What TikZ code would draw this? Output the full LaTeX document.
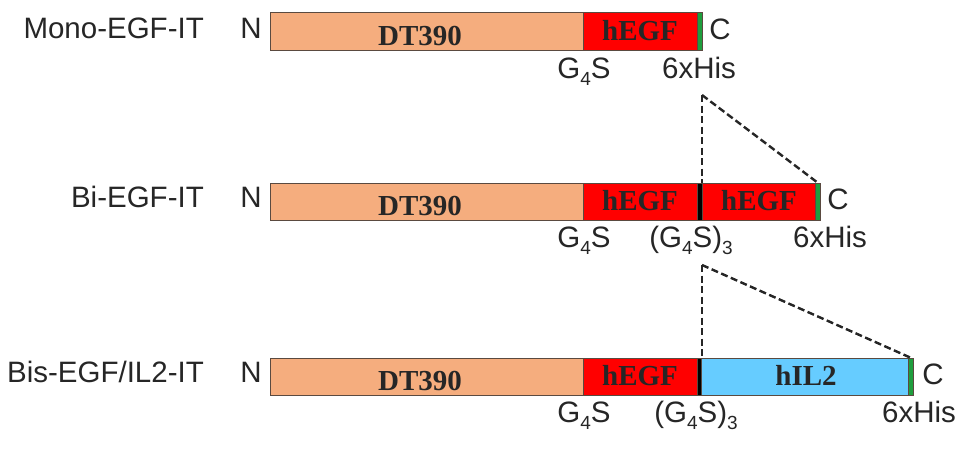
\documentclass[tikz,border=0pt]{standalone}
\usepackage{fontspec}
\setmainfont{Liberation Sans}
\newfontfamily\barfont{Liberation Serif}
\definecolor{peach}{HTML}{F5AD7E}
\definecolor{segred}{HTML}{FF0000}
\definecolor{segblue}{HTML}{66CCFF}
\definecolor{seggreen}{HTML}{1E9E3E}
\definecolor{rim}{HTML}{5A4A40}
\newcommand\mysub[1]{\raisebox{-7pt}{\fontsize{19}{19}\selectfont #1}}
\begin{document}
\begin{tikzpicture}[x=1pt,y=-1pt,
  seg/.style={draw=rim, line width=0.8pt, minimum height=37.5pt, inner sep=0pt, anchor=west},
  bartext/.style={font=\barfont\bfseries\fontsize{29}{29}\selectfont, text=black!85, inner sep=0pt, anchor=base},
  lab/.style={font=\fontsize{29.5}{31}\selectfont, text=black!85, inner sep=0pt, anchor=base},
  namelab/.style={lab, anchor=base east},
  dashln/.style={dash pattern=on 7pt off 3.5pt, line width=2.4pt, black!85}
]
\useasboundingbox (0,0) rectangle (969,450);

% Row 1
\node[seg, fill=peach, minimum width=313pt] (d1) at (270,31.5) {};
\node[seg, fill=segred, minimum width=114pt] (e1) at (583,31.5) {};
\node[seg, fill=seggreen, minimum width=5pt] (h1) at (697,31.5) {};
\node[bartext] (d1t) at (420,45) {DT390};
\node[bartext] (e1t) at (640,40) {hEGF};
\node[namelab] (n1) at (204,38) {Mono-EGF-IT};
\node[lab] (N1) at (251,38) {N};
\node[lab] (C1) at (720,39) {C};
\node[lab] (g1) at (584,78) {G\mysub{4}S};
\node[lab] (s1) at (699,78) {6xHis};

% Row 2
\node[seg, fill=peach, minimum width=313pt] (d2) at (270,202) {};
\node[seg, fill=segred, minimum width=114pt] (e2) at (583,202) {};
\node[seg, fill=black, minimum width=5pt] (k2) at (697,202) {};
\node[seg, fill=segred, minimum width=113pt] (f2) at (702,202) {};
\node[seg, fill=seggreen, minimum width=5pt] (h2) at (815,202) {};
\node[bartext] (d2t) at (420,215.5) {DT390};
\node[bartext] (e2t) at (640,210.5) {hEGF};
\node[bartext] (f2t) at (759,210.5) {hEGF};
\node[namelab] (n2) at (204,207.5) {Bi-EGF-IT};
\node[lab] (N2) at (251,207.5) {N};
\node[lab] (C2) at (838,209) {C};
\node[lab] (g2) at (584,247) {G\mysub{4}S};
\node[lab] (l2) at (691,247) {(G\mysub{4}S)\mysub{3}};
\node[lab] (s2) at (830,247) {6xHis};

% Row 3
\node[seg, fill=peach, minimum width=313pt] (d3) at (270,377) {};
\node[seg, fill=segred, minimum width=114pt] (e3) at (583,377) {};
\node[seg, fill=black, minimum width=4pt] (k3) at (697,377) {};
\node[seg, fill=segblue, minimum width=207pt] (i3) at (701,377) {};
\node[seg, fill=seggreen, minimum width=5pt] (h3) at (908,377) {};
\node[bartext] (d3t) at (420,390.5) {DT390};
\node[bartext] (e3t) at (640,385.5) {hEGF};
\node[bartext] (i3t) at (806,385.5) {hIL2};
\node[namelab] (n3) at (204,382.5) {Bis-EGF/IL2-IT};
\node[lab] (N3) at (251,382.5) {N};
\node[lab] (C3) at (933,384) {C};
\node[lab] (g3) at (584,422) {G\mysub{4}S};
\node[lab] (l3) at (696,422) {(G\mysub{4}S)\mysub{3}};
\node[lab] (s3) at (919,422) {6xHis};

% Dashed connectors
\coordinate (a1) at (702,95);
\coordinate (a2) at (702,265);
\draw[dashln] (a1) -- (k2.north -| a1);
\draw[dashln] (a1) -- (h2.north);
\draw[dashln] (a2) -- (i3.north west -| a2);
\draw[dashln] (a2) -- (h3.north);
\end{tikzpicture}
\end{document}
